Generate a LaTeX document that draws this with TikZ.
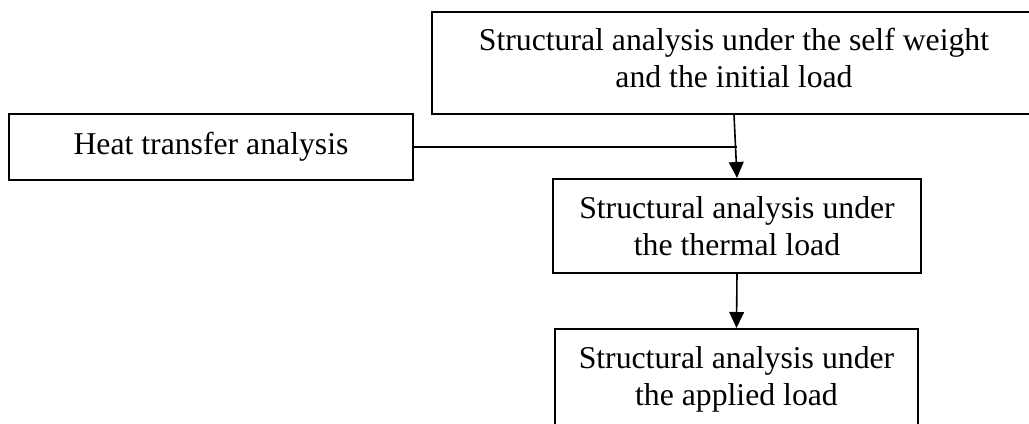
\documentclass[tikz,border=0pt]{standalone}
\usepackage{fontspec}
\setmainfont{Liberation Serif}
\usetikzlibrary{arrows.meta}
\begin{document}
\begin{tikzpicture}[x=0.75pt,y=-0.75pt,
  box/.style={draw=black, line width=1.3pt, fill=white, align=center,
    inner xsep=4pt, inner ysep=0pt, anchor=north,
    font=\fontsize{23.8pt}{27.75pt}\selectfont},
  link/.style={draw=black, line width=1.2pt},
  flow/.style={link, -{Triangle[length=12pt,width=11pt]}}]
\useasboundingbox (0,0) rectangle (1029,424);
\clip (0,0) rectangle (1029,424);
\fill[white] (0,0) rectangle (1029,424);

% process boxes
\node[box, minimum width=453pt, text height=57pt, text depth=19.5pt]
  (selfw) at (734,11) {Structural analysis under the self weight\\and the initial load};
\node[box, minimum width=303pt, text height=30.75pt, text depth=18.75pt]
  (heat) at (211,113) {Heat transfer analysis};
\node[box, minimum width=276pt, text height=57.75pt, text depth=12.75pt]
  (thermal) at (737,178) {Structural analysis under\\the thermal load};
\node[box, minimum width=272.25pt, text height=57.75pt, text depth=39.75pt]
  (applied) at (736.5,328) {Structural analysis under\\the applied load};

% connectors
\draw[flow] (selfw.south) -- (thermal.north);
\draw[link] (heat.east) -- (heat.east -| thermal.north);
\draw[flow] (thermal.south) -- (applied.north);
\end{tikzpicture}
\end{document}
